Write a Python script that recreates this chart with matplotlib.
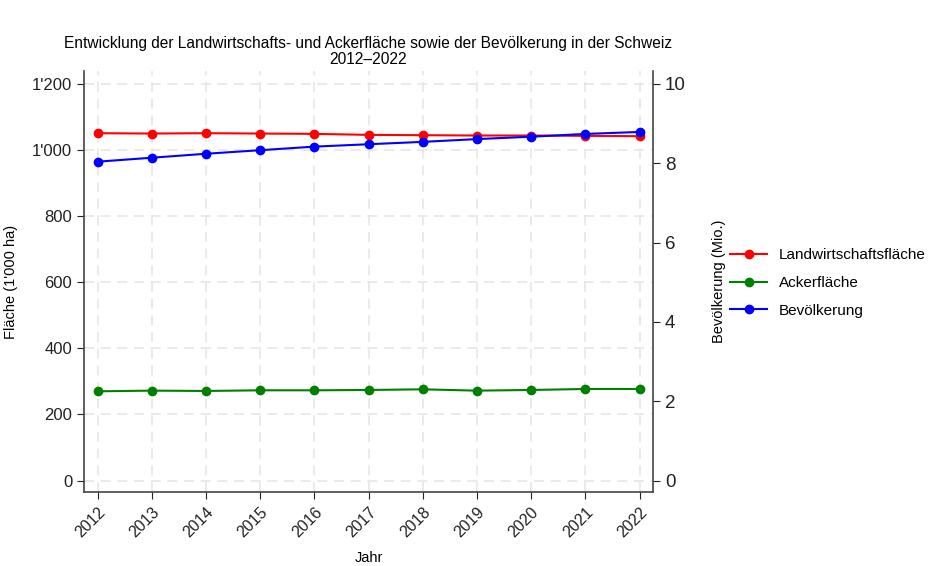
import matplotlib
matplotlib.use("Agg")
from matplotlib import pyplot as plt
from matplotlib.ticker import FuncFormatter

plt.rcParams['font.family'] = ['Liberation Sans', 'DejaVu Sans']

# -----------------------------------------------
# DATA
jahre = [2012, 2013, 2014, 2015, 2016, 2017, 2018, 2019, 2020, 2021, 2022]
landwirtschaft = [1051, 1050, 1051, 1050, 1049, 1046, 1045, 1044, 1044, 1043, 1042]
acker = [270, 272, 271, 273, 273, 274, 276, 272, 274, 277, 277]
bevoelkerung = [8.04, 8.14, 8.24, 8.33, 8.42, 8.48, 8.54, 8.61, 8.67, 8.74, 8.79]

left_ticks = [0, 200, 400, 600, 800, 1000, 1200]
right_ticks = [0, 2, 4, 6, 8, 10]

def swiss(v, pos):
  return "{:,.0f}".format(v).replace(",", "'")

# -----------------------------------------------
# FIGURE
fig = plt.figure(figsize=(9.33, 5.66), dpi=100)
ax = fig.add_axes([0.09, 0.13, 0.61, 0.745])
ax2 = ax.twinx()

grid_kw = dict(color='#e6e6e6', linestyle=(0, (6, 4)), linewidth=1.2)
ax.set_axisbelow(True)
ax.grid(True, **grid_kw)

l1, = ax.plot(jahre, landwirtschaft, color='red', marker='o', markersize=6,
              linewidth=1.5, label='Landwirtschaftsfläche')
l2, = ax.plot(jahre, acker, color='green', marker='o', markersize=6,
              linewidth=1.5, label='Ackerfläche')
l3, = ax2.plot(jahre, bevoelkerung, color='blue', marker='o', markersize=6,
               linewidth=1.5, label='Bevölkerung')

ax.set_xlim(2011.75, 2022.25)
ax.set_ylim(-36, 1240)
ax2.set_ylim(-36 / 120, 1240 / 120)
ax.set_yticks(left_ticks)
ax.yaxis.set_major_formatter(FuncFormatter(swiss))
ax2.set_yticks(right_ticks)
ax.set_xticks(jahre)
ax.set_xticklabels([str(j) for j in jahre], rotation=45, ha='right',
                   rotation_mode='anchor')

for a in (ax, ax2):
  a.spines['top'].set_visible(False)
  for s in ('left', 'right', 'bottom'):
    a.spines[s].set_color('#444444')
    a.spines[s].set_linewidth(1.2)
ax.spines['right'].set_visible(False)
ax2.spines['left'].set_visible(False)
ax2.spines['bottom'].set_visible(False)

ax.tick_params(axis='y', labelsize=12, colors='#222222', length=5)
ax.tick_params(axis='x', labelsize=11.5, colors='#222222', length=5)
ax2.tick_params(axis='y', labelsize=13.5, colors='#222222', length=5)

ax.set_xlabel('Jahr', fontsize=10.5, labelpad=8)
ax.set_ylabel("Fläche (1'000 ha)", fontsize=10.5)
ax.yaxis.set_label_coords(-0.116, 0.5)
ax2.set_ylabel('Bevölkerung (Mio.)', fontsize=10.5)
ax2.yaxis.set_label_coords(1.104, 0.5)

ax.set_title('Entwicklung der Landwirtschafts- und Ackerfläche sowie der Bevölkerung in der Schweiz\n2012–2022',
             fontsize=11.2, linespacing=1.1, pad=5)

fig.legend(handles=[l1, l2, l3], loc='center left', bbox_to_anchor=(0.768, 0.50),
           frameon=False, fontsize=11, handlelength=2.4, labelspacing=0.9)

fig.savefig('out.png', dpi=100)
